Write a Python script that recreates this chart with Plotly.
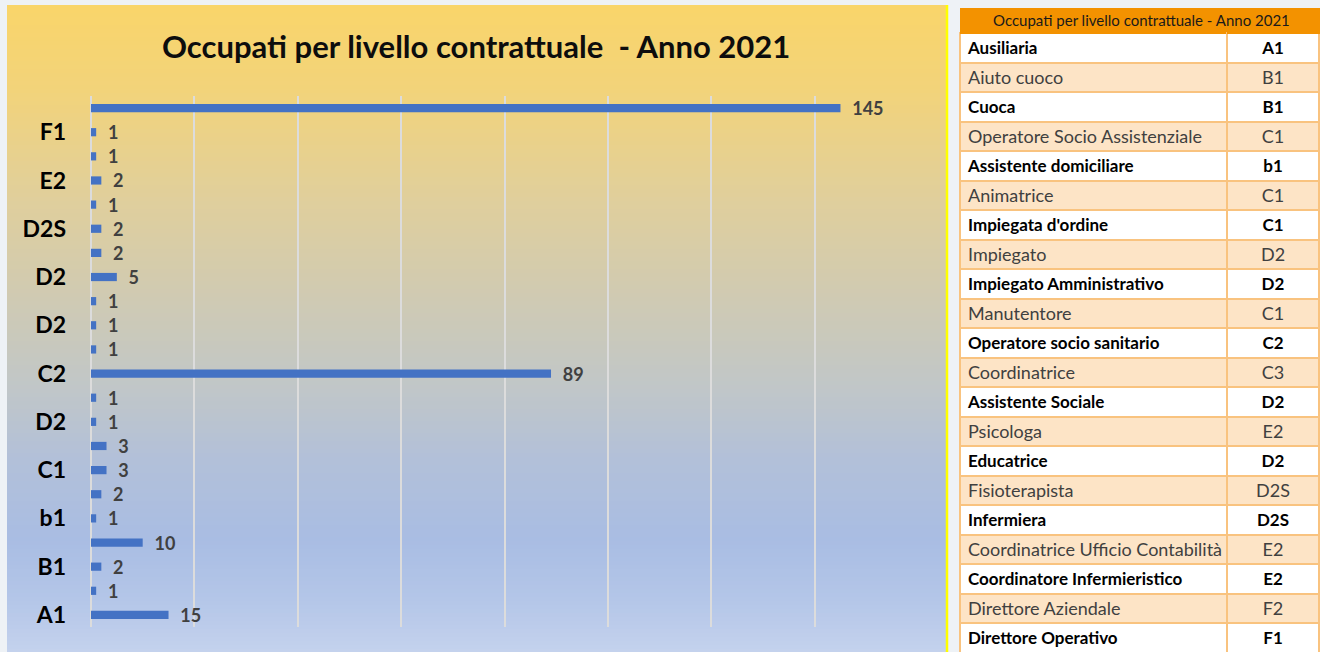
import plotly.graph_objects as go

W, H = 1320, 652

# ---------------- data ----------------
livelli = ["A1", "B1", "B1", "C1", "b1", "C1", "C1", "D2", "D2", "C1", "C2",
           "C3", "D2", "E2", "D2", "D2S", "D2S", "E2", "E2", "F2", "F1"]
occupati = [15, 1, 2, 10, 1, 2, 3, 3, 1, 1, 89, 1, 1, 1, 5, 2, 2, 1, 2, 1, 1]
totale_label = ""
totale = 145

mansioni = ["Ausiliaria", "Aiuto cuoco", "Cuoca", "Operatore Socio Assistenziale",
            "Assistente domiciliare", "Animatrice", "Impiegata d'ordine", "Impiegato",
            "Impiegato Amministrativo", "Manutentore", "Operatore socio sanitario",
            "Coordinatrice", "Assistente Sociale", "Psicologa", "Educatrice",
            "Fisioterapista", "Infermiera", "Coordinatrice Ufficio Contabilità",
            "Coordinatore Infermieristico", "Direttore Aziendale", "Direttore Operativo"]

titolo = "Occupati per livello contrattuale  - Anno 2021"
titolo_tabella = "Occupati per livello contrattuale - Anno 2021"

bar_labels = livelli + [totale_label]
bar_values = occupati + [totale]
positions = list(range(len(bar_values)))
tick_pos = positions[0:len(livelli):2]
tick_text = [bar_labels[i] for i in tick_pos]

FONT = "Lato"

# ---------------- helpers (styling only) ----------------
def px_x(p):
    return p / W

def px_y(p):
    return 1 - p / H

def hex2rgb(h):
    h = h.lstrip("#")
    return tuple(int(h[i:i + 2], 16) for i in (0, 2, 4))

grad_stops = [(5, "#f9d56a"), (90, "#f2d37a"), (200, "#e0cf9c"), (300, "#cfcab3"),
              (380, "#c2c7c6"), (460, "#b2c0d9"), (540, "#a9bde3"), (600, "#b4c6e8"),
              (652, "#c4d2ed")]

def grad_color(y):
    for (y0, c0), (y1, c1) in zip(grad_stops[:-1], grad_stops[1:]):
        if y0 <= y <= y1:
            t = (y - y0) / (y1 - y0)
            a, b = hex2rgb(c0), hex2rgb(c1)
            return "rgb(%d,%d,%d)" % tuple(round(a[k] + (b[k] - a[k]) * t) for k in range(3))
    return grad_stops[-1][1]

shapes = []
y_top, y_bot, step = 5, 652, 4
yy = y_top
while yy < y_bot:
    y2 = min(yy + step, y_bot)
    shapes.append(dict(type="rect", xref="paper", yref="paper",
                       x0=px_x(7), x1=px_x(946), y0=px_y(y2), y1=px_y(yy),
                       fillcolor=grad_color((yy + y2) / 2), line=dict(width=0),
                       layer="below"))
    yy = y2
shapes.append(dict(type="line", xref="paper", yref="paper",
                   x0=px_x(947), x1=px_x(947), y0=0, y1=px_y(5),
                   line=dict(color="#ffff00", width=2.5)))

# ---------------- figure ----------------
fig = go.Figure()

fig.add_trace(go.Bar(
    x=bar_values, y=positions, orientation="h",
    marker=dict(color="#4472c4", line=dict(width=0)),
    width=0.34,
    text=bar_values,
    texttemplate="\u00a0\u00a0%{x}",
    textposition="outside",
    constraintext="none",
    textfont=dict(family=FONT, size=18, color="#404040", weight="bold"),
    cliponaxis=False,
    hoverinfo="skip",
    showlegend=False,
))

# table: alternating bold (white) rows and normal (peach) rows
n = len(mansioni)
nb = lambda s: s.replace(" ", "\u00a0")
fills = ["#ffffff" if i % 2 == 0 else "#fde4c6" for i in range(n)]
bold_c1 = [nb(m) if i % 2 == 0 else "" for i, m in enumerate(mansioni)]
bold_c2 = [c if i % 2 == 0 else "" for i, c in enumerate(livelli)]
norm_c1 = [nb(m) if i % 2 == 1 else "" for i, m in enumerate(mansioni)]
norm_c2 = [c if i % 2 == 1 else "" for i, c in enumerate(livelli)]

tbl_domain = dict(x=[px_x(960), px_x(1319)], y=[0, px_y(8)])
ROW_H = 29.5

fig.add_trace(go.Table(
    domain=tbl_domain,
    columnwidth=[267, 92],
    header=dict(values=["", ""], fill_color="#f39200", height=25,
                line=dict(color="#f39200", width=1)),
    cells=dict(values=[bold_c1, bold_c2],
               fill_color=[fills, fills],
               align=["left", "center"],
               height=ROW_H,
               line=dict(color="#f9c37f", width=2),
               font=dict(family=FONT, size=17, color="#000000", weight="bold")),
))
fig.add_trace(go.Table(
    domain=tbl_domain,
    columnwidth=[267, 92],
    header=dict(values=["", ""], fill_color="rgba(0,0,0,0)", height=25,
                line=dict(color="rgba(0,0,0,0)", width=0)),
    cells=dict(values=[norm_c1, norm_c2],
               fill_color="rgba(0,0,0,0)",
               align=["left", "center"],
               height=ROW_H,
               line=dict(color="rgba(0,0,0,0)", width=0),
               font=dict(family=FONT, size=18, color="#404040")),
))

fig.update_layout(
    width=W, height=H,
    margin=dict(l=0, r=0, t=0, b=0),
    paper_bgcolor="#eef2f6",
    plot_bgcolor="rgba(0,0,0,0)",
    shapes=shapes,
    xaxis=dict(domain=[px_x(91), px_x(918)], range=[0, 160], dtick=20,
               showgrid=True, gridcolor="#dcdcdc", gridwidth=2,
               zeroline=True, zerolinecolor="#dcdcdc", zerolinewidth=2,
               showticklabels=False, showline=False, fixedrange=True),
    yaxis=dict(domain=[px_y(627), px_y(96)], range=[-0.5, len(positions) - 0.5],
               tickmode="array", tickvals=tick_pos, ticktext=tick_text,
               tickfont=dict(family=FONT, size=23, color="#000000", weight="bold"),
               ticklabelstandoff=24, showgrid=False, zeroline=False,
               showline=False, automargin=False, fixedrange=True),
    annotations=[
        dict(text=f"<b>{titolo}</b>", xref="paper", yref="paper",
             x=px_x(476), y=px_y(46), xanchor="center", yanchor="middle",
             showarrow=False, font=dict(family=FONT, size=31, color="#0d0d0d")),
        dict(text=titolo_tabella, xref="paper", yref="paper",
             x=px_x(1141), y=px_y(20.5), xanchor="center", yanchor="middle",
             showarrow=False, font=dict(family=FONT, size=15, color="#1a1a1a")),
    ],
)

fig.write_html("out.html", config={"displayModeBar": False},
               post_script="document.body.style.margin='0';document.body.style.overflow='hidden';")
